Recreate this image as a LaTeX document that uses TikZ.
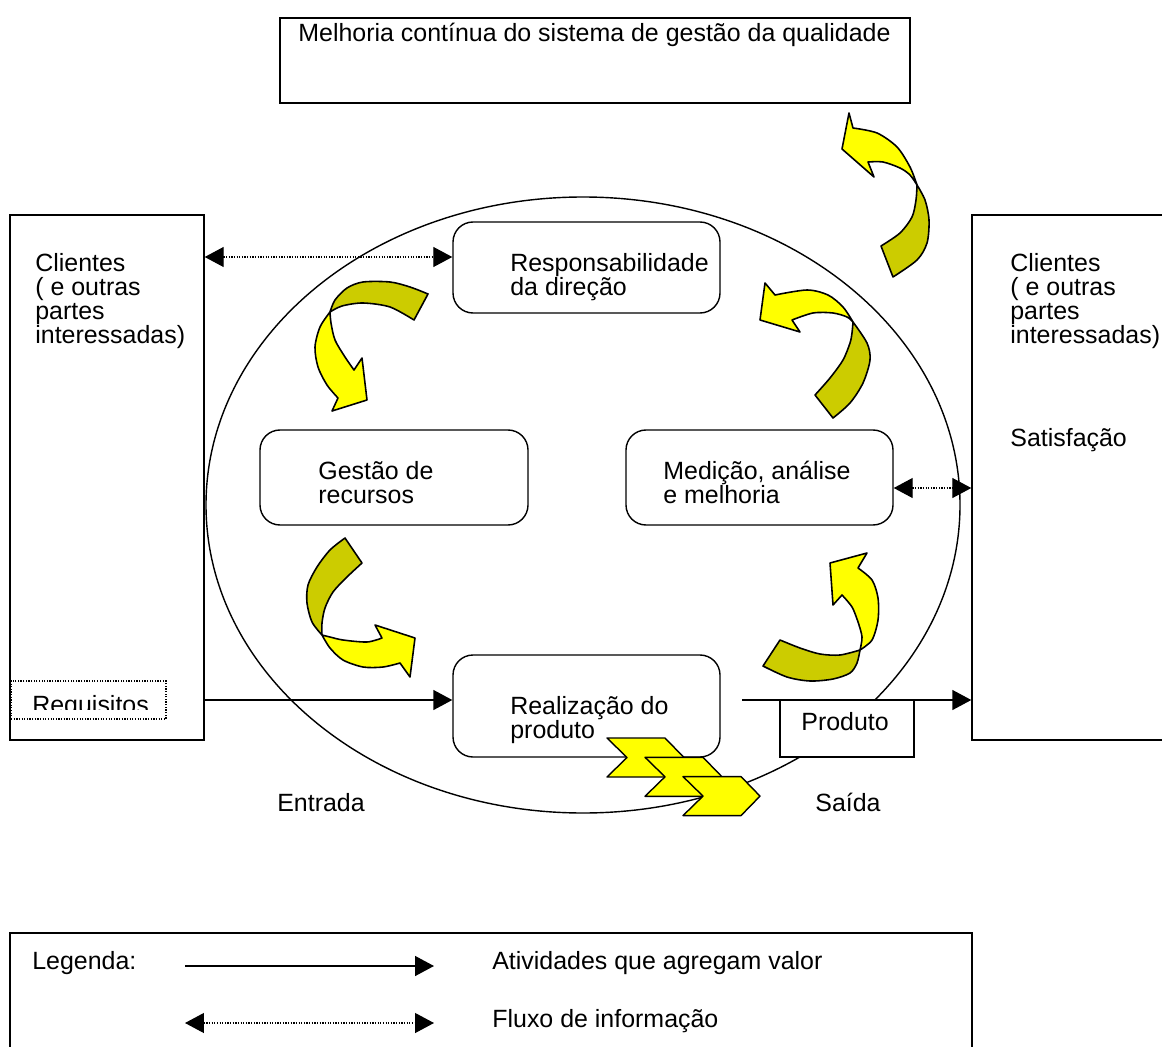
\documentclass[tikz,border=0pt]{standalone}
\usepackage{fontspec}
\setmainfont{Liberation Sans}
\usetikzlibrary{arrows.meta}
\usetikzlibrary{fit}
\definecolor{amarelo}{HTML}{FFFF00}
\definecolor{oliva}{HTML}{CCCC00}
\tikzset{caixa/.style = {draw, fill=white, line width=0.8pt, inner sep=0}}
\tikzset{rcaixa/.style = {caixa, rounded corners=0.4cm}}
\tikzset{txt/.style = {anchor=north west, align=left, inner sep=0,
                       font=\fontsize{14.2pt}{13.66pt}\selectfont}}
\tikzset{ponta/.tip = {Triangle[length=0.38cm, width=0.4cm]}}
\tikzset{valor/.style = {line width=0.8pt, -ponta}}
\tikzset{info/.style = {line width=0.7pt, dash pattern=on 0.7pt off 0.8pt, ponta-ponta}}
\tikzset{cauda/.style = {fill=oliva, draw, line width=0.9pt, line join=round}}
\tikzset{cabeca/.style = {fill=amarelo, draw, line width=0.9pt, line join=round}}

\begin{document}
\begin{tikzpicture}[x=0.02cm, y=-0.02cm]
  \useasboundingbox (0,0) rectangle (1162,1047);
  \clip (0,0) rectangle (1162,1047);

  \node (melhoria) [caixa, fit={(280,18) (910,103)}] {};
  \node (tmelhoria) [txt] at (298,23) {Melhoria contínua do sistema de gestão da qualidade};

  \draw [line width=0.8pt] (583,505) ellipse [x radius=377, y radius=308];

  \node (clienteE) [caixa, fit={(10,215) (204,740)}] {};
  \node (tclienteE) [txt] at (35,253) {Clientes\\( e outras\\partes\\interessadas)};
  \node (requisitos) [draw, dash pattern=on 0.7pt off 0.8pt, line width=0.7pt,
                      inner sep=0, fit={(11,681) (166,719)}] {};
  \begin{scope}
    \clip (11,681) rectangle (166,709);
    \node (trequisitos) [txt] at (32,695) {Requisitos};
  \end{scope}

  \node (clienteS) [caixa, fit={(972,215) (1180,740)}] {};
  \node (tclienteS) [txt] at (1010,253) {Clientes\\( e outras\\partes\\interessadas)};
  \node (satisfacao) [txt] at (1010,428) {Satisfação};

  \node (resp) [rcaixa, fit={(453,222) (720,313)}] {};
  \node (tresp) [txt] at (510,253) {Responsabilidade\\da direção};
  \node (gestao) [rcaixa, fit={(260,430) (528,525)}] {};
  \node (tgestao) [txt] at (318,461) {Gestão de\\recursos};
  \node (medicao) [rcaixa, fit={(626,430) (893,525)}] {};
  \node (tmedicao) [txt] at (663,461) {Medição, análise\\e melhoria};
  \node (realiz) [rcaixa, fit={(453,655) (720,757)}] {};
  \node (trealiz) [txt] at (510,696) {Realização do\\produto};

  \coordinate (saida) at (742,700);
  \draw [valor] (clienteE.east |- 0,700) -- (realiz.west |- 0,700);
  \draw [valor] (saida) -- (clienteS.west |- 0,700);
  \draw [info] (clienteE.east |- 0,257) -- (resp.west |- 0,257);
  \draw [info] (medicao.east |- 0,488) -- (clienteS.west |- 0,488);

  \node (produto) [caixa, fit={(780,700) (914,757)}] {};
  \node (tproduto) [txt] at (801,712) {Produto};

  \foreach \i in {0,1,2} {
    \pgfmathsetmacro{\cx}{607+38*\i}
    \pgfmathsetmacro{\cy}{738+19.3*\i}
    \filldraw [cabeca, line width=0.8pt] (\cx,\cy) -- ++(58,0) -- ++(19,19.5) -- ++(-19,19.5)
      -- ++(-58,0) -- ++(20,-19.5) -- cycle;
  }

  \filldraw [cauda] plot [smooth] coordinates {(917,185) (925,200) (929,220) (927,243) (917,260) (893,277)}
    -- plot [smooth] coordinates {(881,246) (900,233) (912,217) (916,200) (917,185)} -- cycle;
  \filldraw [cabeca] plot [smooth] coordinates {(917,185) (910,167) (897,147) (877,133) (853,128)}
    -- (849,113) -- (842,149) -- (874,177)
    -- plot [smooth] coordinates {(868,162) (883,162) (900,168) (910,175) (917,185)} -- cycle;

  \filldraw [cauda] plot [smooth] coordinates {(428,294) (410,287) (390,282) (363,282) (347,288) (335,300) (330,312)}
    -- plot [smooth] coordinates {(330,312) (342,306) (363,303) (390,307) (414,320)} -- cycle;
  \filldraw [cabeca] plot [smooth] coordinates {(330,312) (320,327) (315,347) (318,367) (327,385) (338,398)}
    -- (332,411) -- (367,400) -- (362,358)
    -- plot [smooth] coordinates {(354,370) (345,357) (335,340) (331,323) (330,312)} -- cycle;

  \filldraw [cauda] plot [smooth] coordinates {(345,538) (330,550) (317,567) (308,585) (307,603) (312,622) (322,635)}
    -- plot [smooth] coordinates {(322,635) (322,623) (325,608) (333,592) (347,577) (362,563)} -- cycle;
  \filldraw [cabeca] plot [smooth] coordinates {(322,635) (330,648) (343,660) (363,667) (383,667) (400,663)}
    -- (410,677) -- (415,638) -- (375,625)
    -- plot [smooth] coordinates {(382,638) (367,642) (343,640) (330,637) (322,635)} -- cycle;

  \filldraw [cauda] plot [smooth] coordinates {(780,640) (800,648) (820,654) (840,655) (860,650)}
    -- plot [smooth] coordinates {(860,650) (857,663) (850,673) (833,679) (810,681) (787,677) (763,666)} -- cycle;
  \filldraw [cabeca] plot [smooth] coordinates {(860,650) (872,640) (878,620) (878,598) (872,580) (858,568)}
    -- (867,553) -- (830,563) -- (833,605)
    -- plot [smooth] coordinates {(842,595) (852,607) (858,622) (862,637) (860,650)} -- cycle;

  \filldraw [cauda] plot [smooth] coordinates {(833,418) (850,403) (863,383) (870,360) (867,343) (853,322)}
    -- plot [smooth] coordinates {(853,322) (852,333) (850,343) (843,360) (830,378) (815,395)} -- cycle;
  \filldraw [cabeca] plot [smooth] coordinates {(853,322) (843,307) (828,295) (807,290) (775,295)}
    -- (765,283) -- (760,320) -- (800,332)
    -- plot [smooth] coordinates {(792,320) (813,313) (833,313) (847,317) (853,322)} -- cycle;

  \node (entrada) [txt] at (277,793) {Entrada};
  \node (tsaida) [txt] at (815,793) {Saída};

  \node (legenda) [caixa, fit={(10,933) (972,1070)}] {};
  \node (tlegenda) [txt] at (32,951) {Legenda:};
  \coordinate (la) at (185,966);
  \coordinate (lb) at (434,966);
  \coordinate (lc) at (185,1023);
  \coordinate (ld) at (434,1023);
  \draw [valor] (la) -- (lb);
  \draw [info] (lc) -- (ld);
  \node (tvalor) [txt] at (492,951) {Atividades que agregam valor};
  \node (tinfo) [txt] at (492,1009) {Fluxo de informação};
\end{tikzpicture}
\end{document}
